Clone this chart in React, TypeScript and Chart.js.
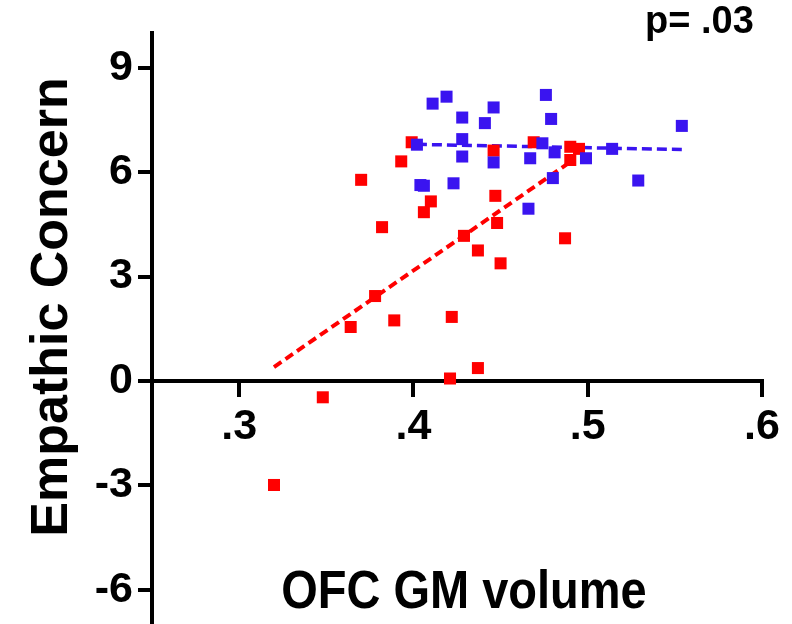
import { useEffect, useRef } from 'react';
import { Chart, registerables } from 'chart.js';

Chart.register(...registerables);

const FONT = '"Liberation Sans", Arial, Helvetica, sans-serif';

const xTitle = 'OFC GM volume';
const yTitle = 'Empathic Concern';
const pLabel = 'p= .03';

const xTicks = [0.3, 0.4, 0.5, 0.6];
const yTicks = [-6, -3, 0, 3, 6, 9];

// blue group
const blueX = [
  0.411, 0.419, 0.428, 0.446, 0.441, 0.476, 0.479, 0.402, 0.428, 0.428, 0.446, 0.467,
  0.474, 0.481, 0.499, 0.514, 0.529, 0.404, 0.406, 0.423, 0.48, 0.466, 0.554,
];
const blueY = [
  7.97, 8.17, 7.57, 7.86, 7.41, 8.22, 7.53, 6.79, 6.95, 6.45, 6.28, 6.4,
  6.83, 6.57, 6.4, 6.67, 5.76, 5.63, 5.61, 5.68, 5.83, 4.95, 7.33,
];

// red group
const redX = [
  0.399, 0.393, 0.446, 0.469, 0.49, 0.495, 0.49, 0.41, 0.406, 0.382, 0.447, 0.448, 0.429,
  0.437, 0.45, 0.487, 0.37, 0.378, 0.364, 0.389, 0.422, 0.437, 0.421, 0.348, 0.32,
];
const redY = [
  6.86, 6.31, 6.62, 6.86, 6.73, 6.67, 6.35, 5.16, 4.85, 4.42, 5.32, 4.54, 4.17,
  3.75, 3.38, 4.1, 5.78, 2.44, 1.55, 1.74, 1.84, 0.37, 0.07, -0.47, -2.99,
];

// fitted lines (end points)
const blueFitX = [0.402, 0.554];
const blueFitY = [6.8, 6.65];
const redFitX = [0.32, 0.491];
const redFitY = [0.4, 6.33];

const BLUE = '#3a14f0';
const RED = '#ff0000';

const toPoints = (xs: number[], ys: number[]) => xs.map((x, i) => ({ x, y: ys[i] }));

const textPlugin = {
  id: 'figureText',
  afterDraw(chart: Chart) {
    const { ctx } = chart;
    ctx.save();
    ctx.fillStyle = '#000';

    ctx.font = `bold 38px ${FONT}`;
    ctx.textAlign = 'left';
    ctx.textBaseline = 'alphabetic';
    ctx.fillText(pLabel, 645, 33);

    ctx.save();
    ctx.translate(464, 608);
    ctx.scale(0.87, 1);
    ctx.font = `bold 54px ${FONT}`;
    ctx.textAlign = 'center';
    ctx.fillText(xTitle, 0, 0);
    ctx.restore();

    ctx.save();
    ctx.translate(67, 307);
    ctx.rotate(-Math.PI / 2);
    ctx.font = `bold 52px ${FONT}`;
    ctx.textAlign = 'center';
    ctx.fillText(yTitle, 0, 0);
    ctx.restore();

    ctx.restore();
  },
};

const App: React.FC = () => {
  const canvasRef = useRef<HTMLCanvasElement | null>(null);
  const chartRef = useRef<Chart | null>(null);

  useEffect(() => {
    if (!canvasRef.current) return;
    const axisGrid = {
      display: true,
      drawOnChartArea: false,
      drawTicks: true,
      tickLength: 14,
      lineWidth: 4,
      color: '#000',
    };
    chartRef.current = new Chart(canvasRef.current, {
      type: 'scatter',
      data: {
        datasets: [
          {
            label: 'blue',
            data: toPoints(blueX, blueY),
            pointStyle: 'rect',
            pointRadius: 8.5,
            pointBorderWidth: 0,
            backgroundColor: BLUE,
            borderColor: BLUE,
            order: 0,
          },
          {
            label: 'red',
            data: toPoints(redX, redY),
            pointStyle: 'rect',
            pointRadius: 8.5,
            pointBorderWidth: 0,
            backgroundColor: RED,
            borderColor: RED,
            order: 1,
          },
          {
            label: 'blue fit',
            data: toPoints(blueFitX, blueFitY),
            showLine: true,
            pointRadius: 0,
            borderColor: BLUE,
            borderWidth: 3.5,
            borderDash: [10, 5],
            order: 2,
          },
          {
            label: 'red fit',
            data: toPoints(redFitX, redFitY),
            showLine: true,
            pointRadius: 0,
            borderColor: RED,
            borderWidth: 4,
            borderDash: [9, 5],
            order: 3,
          },
        ],
      },
      options: {
        animation: false,
        responsive: true,
        maintainAspectRatio: false,
        clip: false,
        layout: { padding: { top: 33, right: 30, bottom: 1, left: 0 } },
        plugins: {
          legend: { display: false },
          tooltip: { enabled: false },
        },
        scales: {
          x: {
            type: 'linear',
            min: 0.25,
            max: 0.6,
            position: { y: 0 },
            grid: axisGrid,
            border: { display: true, color: '#000', width: 4 },
            afterBuildTicks: (scale: any) => {
              scale.ticks = xTicks.map((value) => ({ value }));
            },
            afterFit: (scale: any) => {
              scale.paddingLeft = 0;
              scale.paddingRight = 0;
            },
            ticks: {
              padding: 6,
              color: '#000',
              font: { family: FONT, size: 43, weight: 'bold' },
              callback: (v: any) => Number(v).toFixed(1).replace(/^0/, ''),
            },
          },
          y: {
            type: 'linear',
            min: -7,
            max: 10,
            position: 'left',
            grid: axisGrid,
            border: { display: true, color: '#000', width: 4 },
            afterBuildTicks: (scale: any) => {
              scale.ticks = yTicks.map((value) => ({ value }));
            },
            afterFit: (scale: any) => {
              scale.width = 152;
              scale.paddingTop = 0;
              scale.paddingBottom = 0;
            },
            ticks: {
              padding: 5,
              color: '#000',
              font: { family: FONT, size: 43, weight: 'bold' },
            },
          },
        },
      },
      plugins: [textPlugin],
    } as any);
    return () => {
      chartRef.current?.destroy();
      chartRef.current = null;
    };
  }, []);

  // the canvas runs a little past the bottom edge so the y axis reaches the frame
  return (
    <div style={{ position: 'fixed', left: 0, top: 0, width: 792, height: 624, overflow: 'hidden', background: '#fff' }}>
      <div style={{ position: 'relative', width: 792, height: 633 }}>
        <canvas ref={canvasRef} />
      </div>
    </div>
  );
};

export default App;
